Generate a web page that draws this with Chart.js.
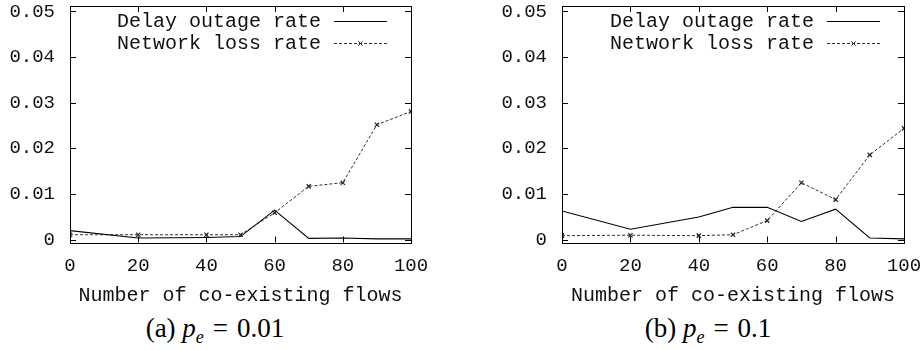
<!DOCTYPE html>
<html><head><meta charset="utf-8">
<script src="https://cdn.jsdelivr.net/npm/chart.js@4"></script>
<style>
body{margin:0;background:#fff;width:924px;height:350px;overflow:hidden;position:relative}
.box{position:absolute;top:0;width:462px;height:312px}
.cap{position:absolute;top:313px;font-family:"Liberation Serif","Times New Roman",serif;font-size:27px;line-height:30px;color:#000;white-space:nowrap;transform:translateX(-50%)}
.cap i{font-style:italic}
.cap .s{font-style:italic;font-size:18px;position:relative;top:6px}
.cap .eq{margin:0 9px}
</style></head><body>
<div class="box" style="left:0"><canvas id="c1" width="462" height="312"></canvas></div>
<div class="box" style="left:462px"><canvas id="c2" width="462" height="312"></canvas></div>
<div class="cap" style="left:215px">(a) <i>p</i><span class="s">e</span><span class="eq">=</span>0.01</div>
<div class="cap" style="left:708px">(b) <i>p</i><span class="s">e</span><span class="eq">=</span>0.1</div>
<script>
const flows = [0, 20, 40, 50, 60, 70, 80, 90, 100];
const delayA = [0.0020, 0.0004, 0.0005, 0.0007, 0.0065, 0.0003, 0.0004, 0.0002, 0.0002];
const lossA  = [0.0011, 0.0011, 0.0011, 0.0011, 0.0059, 0.0117, 0.0125, 0.0252, 0.0281];
const delayB = [0.0063, 0.0023, 0.0050, 0.0071, 0.0071, 0.0040, 0.0067, 0.0004, 0.0002];
const lossB  = [0.0009, 0.0010, 0.0009, 0.0011, 0.0042, 0.0125, 0.0088, 0.0186, 0.0244];
const xTicks = [0, 20, 40, 60, 80, 100];
const yTicks = [0, 0.01, 0.02, 0.03, 0.04, 0.05];
const yTickLabels = ['0', '0.01', '0.02', '0.03', '0.04', '0.05'];
const seriesNames = ['Delay outage rate', 'Network loss rate'];
const xTitle = 'Number of co-existing flows';

const MONO = '"Liberation Mono", "Courier New", monospace';
const TXT = '#111';

const framePlugin = {
  id: 'frame',
  afterDraw(chart) {
    const ctx = chart.ctx, a = chart.chartArea;
    const xs = chart.scales.x, ys = chart.scales.y;
    ctx.save();
    ctx.strokeStyle = '#000';
    ctx.lineWidth = 1;
    ctx.strokeRect(Math.round(a.left) + 0.5, Math.round(a.top) + 0.5,
                   Math.round(a.right - a.left), Math.round(a.bottom - a.top));
    const tl = 6;
    ctx.beginPath();
    xTicks.forEach(v => {
      const px = Math.round(xs.getPixelForValue(v)) + 0.5;
      ctx.moveTo(px, a.bottom); ctx.lineTo(px, a.bottom - tl);
      ctx.moveTo(px, a.top); ctx.lineTo(px, a.top + tl);
    });
    yTicks.forEach(v => {
      const py = Math.round(ys.getPixelForValue(v)) + 0.5;
      ctx.moveTo(a.left, py); ctx.lineTo(a.left + tl, py);
      ctx.moveTo(a.right, py); ctx.lineTo(a.right - tl, py);
    });
    ctx.stroke();
    ctx.restore();
  }
};

const legendPlugin = {
  id: 'inlegend',
  afterDatasetsDraw(chart) {
    const ctx = chart.ctx, a = chart.chartArea;
    ctx.save();
    chart.data.datasets.forEach((ds, i) => {
      const y = a.top + 15 + i * 22;
      const x2 = a.right - 24, x1 = x2 - 53;
      ctx.font = '20px ' + MONO;
      ctx.fillStyle = TXT;
      ctx.textAlign = 'right';
      ctx.textBaseline = 'middle';
      ctx.fillText(ds.label, x1 - 13, y + 1);
      ctx.strokeStyle = ds.borderColor;
      ctx.lineWidth = ds.borderWidth;
      ctx.setLineDash(ds.borderDash || []);
      ctx.beginPath();
      ctx.moveTo(x1, y + 0.5); ctx.lineTo(x2, y + 0.5);
      ctx.stroke();
      ctx.setLineDash([]);
      if (ds.pointRadius > 0) {
        const m = (x1 + x2) / 2, r = ds.pointRadius * 0.75;
        ctx.beginPath();
        ctx.moveTo(m - r, y - r + 0.5); ctx.lineTo(m + r, y + r + 0.5);
        ctx.moveTo(m - r, y + r + 0.5); ctx.lineTo(m + r, y - r + 0.5);
        ctx.stroke();
      }
    });
    ctx.restore();
  }
};

function makeChart(id, delay, loss, yWidth, padRight) {
  const pts = arr => flows.map((f, i) => ({x: f, y: arr[i]}));
  return new Chart(document.getElementById(id), {
    type: 'line',
    data: {
      datasets: [
        {label: seriesNames[0], data: pts(delay), borderColor: '#000', borderWidth: 1.1,
         pointRadius: 0, tension: 0, fill: false},
        {label: seriesNames[1], data: pts(loss), borderColor: '#333', borderWidth: 1,
         borderDash: [3, 2], pointStyle: 'crossRot', pointRadius: 3, pointBorderWidth: 1.2,
         pointBorderColor: '#222', tension: 0, fill: false}
      ]
    },
    options: {
      responsive: false,
      devicePixelRatio: 1,
      animation: false,
      events: [],
      layout: {padding: {top: 6, right: padRight, left: 0, bottom: 0}},
      plugins: {legend: {display: false}, tooltip: {enabled: false}},
      scales: {
        x: {
          type: 'linear', min: 0, max: 100,
          afterBuildTicks: s => { s.ticks = xTicks.map(v => ({value: v})); },
          afterFit: s => { s.height = 69.5; s.paddingLeft = 0; s.paddingRight = 0; },
          grid: {display: false, drawTicks: false},
          border: {display: false},
          ticks: {font: {family: MONO, size: 19}, color: TXT, padding: 12,
                  maxRotation: 0, autoSkip: false},
          title: {display: true, text: xTitle, font: {family: MONO, size: 20},
                  color: TXT, padding: {top: 0, bottom: 4}}
        },
        y: {
          type: 'linear', min: -0.0006, max: 0.0512,
          afterBuildTicks: s => { s.ticks = yTicks.map(v => ({value: v})); },
          afterFit: s => { s.width = yWidth; s.paddingTop = 0; s.paddingBottom = 0; },
          grid: {display: false, drawTicks: false},
          border: {display: false},
          ticks: {font: {family: MONO, size: 19}, color: TXT, padding: 15,
                  callback: v => yTickLabels[yTicks.indexOf(v)]}
        }
      }
    },
    plugins: [framePlugin, legendPlugin]
  });
}

makeChart('c1', delayA, lossA, 70, 51);
makeChart('c2', delayB, lossB, 100, 20);
</script>
</body></html>
